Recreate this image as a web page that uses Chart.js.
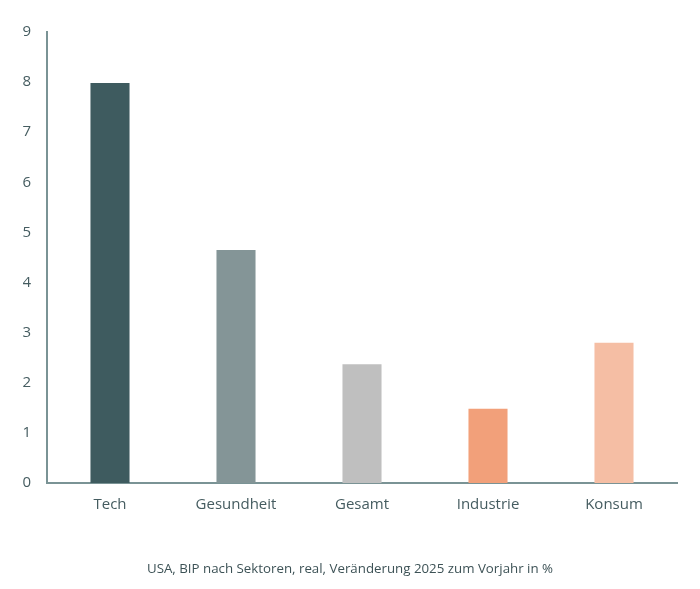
<!DOCTYPE html>
<html lang="de">

<head>
    <meta charset="UTF-8">
    <script src="https://cdn.jsdelivr.net/npm/chart.js"></script>
    <title>BIP nach Sektoren</title>
    <style>
        html, body {
            margin: 0;
            padding: 0;
            background: #ffffff;
        }

        .chart-box {
            width: 700px;
            height: 589px;
        }
    </style>
</head>

<body>
    <div class="chart-box">
        <canvas id="sektorChart"></canvas>
    </div>
    <script>
        // Werte
        const sektoren = ['Tech', 'Gesundheit', 'Gesamt', 'Industrie', 'Konsum'];
        const veraenderung = [7.98, 4.65, 2.37, 1.48, 2.8];
        const farben = ['#3e5b5f', '#849597', '#bfbfbf', '#f2a07a', '#f5bea4'];
        const yTicks = [0, 1, 2, 3, 4, 5, 6, 7, 8, 9];
        const untertitel = 'USA, BIP nach Sektoren, real, Veränderung 2025 zum Vorjahr in %';

        const textFarbe = '#455c60';
        const achsenFarbe = '#7a9395';

        const ctx = document.getElementById('sektorChart').getContext('2d');
        new Chart(ctx, {
            type: 'bar',
            data: {
                labels: sektoren,
                datasets: [{
                    data: veraenderung,
                    backgroundColor: farben,
                    borderWidth: 0,
                    barPercentage: 0.31,
                    categoryPercentage: 1
                }]
            },
            options: {
                responsive: true,
                maintainAspectRatio: false,
                animation: false,
                layout: {
                    padding: { top: 32, left: 23, right: 23, bottom: 0 }
                },
                plugins: {
                    legend: { display: false },
                    tooltip: { enabled: false },
                    title: {
                        display: true,
                        position: 'bottom',
                        text: untertitel,
                        color: '#3d5256',
                        font: { family: 'Open Sans', size: 13.3, weight: 'normal' },
                        padding: { top: 0, bottom: 12 }
                    }
                },
                scales: {
                    x: {
                        grid: { display: false, drawTicks: false },
                        border: { display: true, color: achsenFarbe, width: 2 },
                        ticks: {
                            color: textFarbe,
                            font: { family: 'Open Sans', size: 15 },
                            padding: 13
                        },
                        afterFit: function (scale) {
                            scale.height = 78;
                        }
                    },
                    y: {
                        min: yTicks[0],
                        max: yTicks[yTicks.length - 1],
                        grid: { display: false, drawTicks: false },
                        border: { display: true, color: achsenFarbe, width: 2 },
                        afterBuildTicks: function (scale) {
                            scale.ticks = yTicks.map(v => ({ value: v }));
                        },
                        ticks: {
                            color: textFarbe,
                            font: { family: 'Open Sans', size: 15 },
                            padding: 16
                        },
                        afterFit: function (scale) {
                            scale.width = 24;
                        }
                    }
                }
            }
        });
    </script>
</body>

</html>
